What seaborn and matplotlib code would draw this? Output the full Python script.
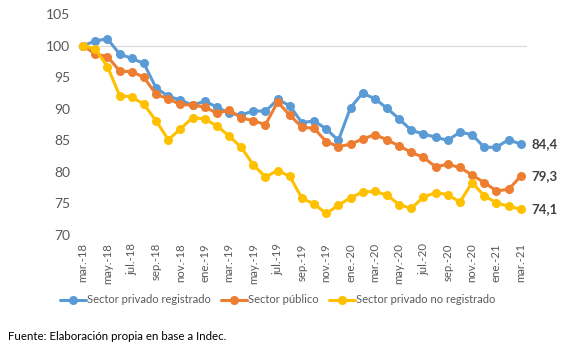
import numpy as np
import pandas as pd
import matplotlib
matplotlib.use("Agg")
import matplotlib.pyplot as plt
import seaborn as sns
from matplotlib.lines import Line2D

months = ["mar.-18", "abr.-18", "may.-18", "jun.-18", "jul.-18", "ago.-18", "sep.-18", "oct.-18",
          "nov.-18", "dic.-18", "ene.-19", "feb.-19", "mar.-19", "abr.-19", "may.-19", "jun.-19",
          "jul.-19", "ago.-19", "sep.-19", "oct.-19", "nov.-19", "dic.-19", "ene.-20", "feb.-20",
          "mar.-20", "abr.-20", "may.-20", "jun.-20", "jul.-20", "ago.-20", "sep.-20", "oct.-20",
          "nov.-20", "dic.-20", "ene.-21", "feb.-21", "mar.-21"]

privado_registrado = [100, 100.8, 101.1, 98.7, 98.0, 97.2, 93.3, 92.0, 91.4, 90.6, 91.2, 90.3,
                      89.3, 89.0, 89.7, 89.6, 91.5, 90.5, 87.8, 88.1, 86.8, 85.0, 90.2, 92.5,
                      91.6, 90.1, 88.4, 86.6, 86.0, 85.5, 85.0, 86.3, 85.9, 83.9, 83.9, 85.1, 84.4]
sector_publico = [100, 98.7, 98.3, 96.0, 95.9, 95.0, 92.3, 91.6, 90.7, 90.6, 90.3, 89.3,
                  89.8, 88.6, 88.1, 87.5, 91.1, 89.0, 87.1, 86.9, 84.8, 84.0, 84.4, 85.2,
                  85.9, 85.1, 84.1, 83.1, 82.3, 80.8, 81.2, 80.7, 79.5, 78.3, 77.0, 77.2, 79.3]
privado_no_registrado = [100, 99.5, 96.7, 92.1, 91.9, 90.7, 88.1, 85.1, 86.8, 88.6, 88.4, 87.3,
                         85.7, 83.9, 81.1, 79.2, 80.2, 79.3, 75.8, 74.9, 73.4, 74.7, 75.9, 76.8,
                         76.9, 76.3, 74.8, 74.2, 76.0, 76.7, 76.4, 75.2, 78.3, 76.2, 75.1, 74.5, 74.1]

series_names = ["Sector privado registrado", "Sector público", "Sector privado no registrado"]
end_labels = ["84,4", "79,3", "74,1"]
colors = ["#5B9BD5", "#ED7D31", "#FFC000"]

df = pd.DataFrame({
    "idx": list(range(len(months))) * 3,
    "value": privado_registrado + sector_publico + privado_no_registrado,
    "serie": [series_names[0]] * len(months) + [series_names[1]] * len(months) + [series_names[2]] * len(months),
})

sns.set_style("white")
plt.rcParams["font.family"] = ["Lato", "DejaVu Sans"]

fig = plt.figure(figsize=(5.67, 3.5), dpi=100)
ax = fig.add_axes([0.136, 0.329, 0.793, 0.63])

ax.axhline(100, color="#D9D9D9", lw=0.8, zorder=0)
sns.lineplot(data=df, x="idx", y="value", hue="serie", hue_order=series_names,
             palette=colors, marker="o", markersize=6.5, markeredgewidth=0,
             linewidth=2.2, ax=ax, legend=False)

ax.set_xlim(-0.5, len(months) - 0.5)
ax.set_ylim(70, 105)
ax.set_yticks(range(70, 106, 5))
ax.set_yticklabels([str(v) for v in range(70, 106, 5)], color="#595959", fontsize=10)
ticks = list(range(0, len(months), 2))
ax.set_xticks(ticks)
ax.set_xticklabels([months[i] for i in ticks], rotation=90, color="#595959", fontsize=8.2)
ax.tick_params(axis="y", length=0, pad=5)
ax.tick_params(axis="x", length=0, pad=6)
ax.set_xlabel("")
ax.set_ylabel("")
for s in ax.spines.values():
    s.set_visible(False)

last_vals = [privado_registrado[-1], sector_publico[-1], privado_no_registrado[-1]]
for v, lab in zip(last_vals, end_labels):
    ax.annotate(lab, xy=(len(months) - 1, v), xytext=(8, 0), textcoords="offset points",
                va="center", ha="left", fontsize=9.5, fontweight="bold", color="#404040",
                annotation_clip=False)

handles = [Line2D([0], [0], color=c, lw=2.2, marker="o", markersize=5.5) for c in colors]
fig.legend(handles, series_names, loc="center", bbox_to_anchor=(0.49, 0.143), ncol=3,
           frameon=False, fontsize=8, handlelength=2.3, handletextpad=0.15, columnspacing=0.9,
           labelcolor="#595959")

fig.text(0.014, 0.028, "Fuente: Elaboración propia en base a Indec.", fontsize=8.3, color="black")

fig.savefig("out.png", dpi=100)
